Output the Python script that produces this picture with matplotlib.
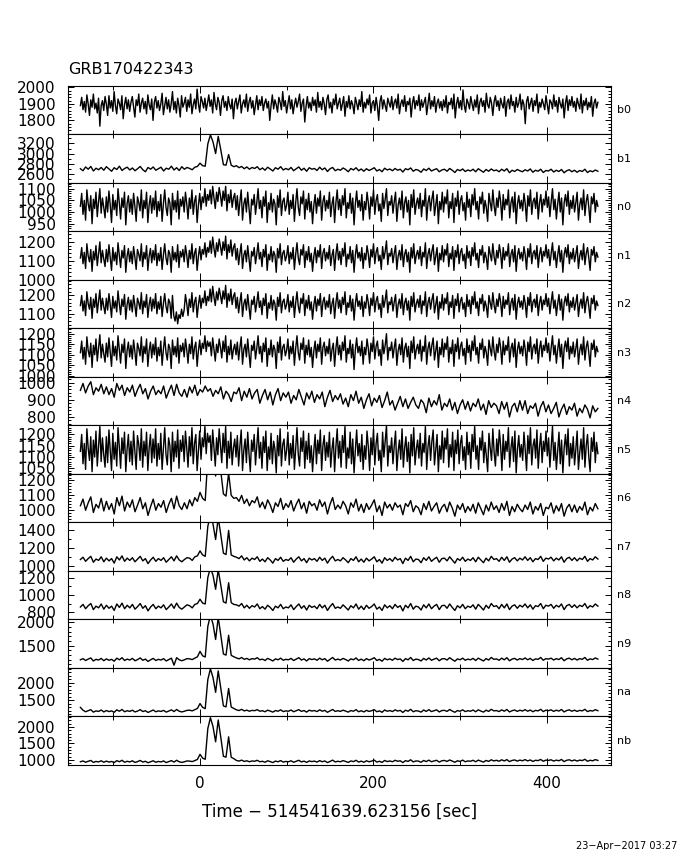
# GBM lightcurves, one panel per detector
import numpy as np
import matplotlib.pyplot as plt
from matplotlib.ticker import MultipleLocator

t_start, t_end = -138.0, 459.0   # first and last bin centre (s)

detectors = ['b0', 'b1', 'n0', 'n1', 'n2', 'n3', 'n4', 'n5',
             'n6', 'n7', 'n8', 'n9', 'na', 'nb']

# count rates (noisy detectors at finer binning)
b0 = [1890, 1940, 1865, 1915, 1850, 1955, 1900, 1830, 1925, 1880, 1960, 1870, 1905, 1845, 1935, 1765, 1890, 1920, 1860, 1945,
      1900, 1830, 1950, 1875, 1920, 1855, 1975, 1890, 1840, 1930, 1905, 1865, 1950, 1810, 1895, 1940, 1870, 1925, 1855, 1910,
      1945, 1880, 1820, 1925, 1890, 1960, 1850, 1905, 1935, 1870, 1915, 1840, 1955, 1895, 1865, 1930, 1800, 1910, 1945, 1875,
      1920, 1860, 1900, 1965, 1835, 1890, 1940, 1870, 1925, 1850, 1900, 1975, 1865, 1915, 1845, 1935, 1890, 1820, 1950, 1880,
      1905, 1940, 1855, 1925, 1880, 1960, 1840, 1895, 1930, 1870, 1990, 1900, 1850, 1945, 1915, 1875, 1935, 1860, 1905, 1955,
      1885, 1925, 1845, 1970, 1900, 1865, 1940, 1910, 1830, 1920, 1950, 1880, 1915, 1860, 1945, 1895, 1870, 1930, 1810, 1905,
      1935, 1870, 1915, 1955, 1845, 1900, 1925, 1880, 1960, 1855, 1910, 1940, 1875, 1920, 1835, 1895, 1950, 1865, 1925, 1890,
      1945, 1860, 1905, 1930, 1875, 1915, 1800, 1890, 1955, 1870, 1925, 1895, 1850, 1940, 1910, 1865, 1975, 1885, 1920, 1845,
      1900, 1950, 1870, 1925, 1840, 1895, 1935, 1880, 1915, 1960, 1855, 1905, 1930, 1790, 1885, 1945, 1875, 1910, 1860, 1940,
      1890, 1925, 1850, 1970, 1880, 1915, 1865, 1940, 1900, 1835, 1925, 1955, 1875, 1910, 1845, 1930, 1895, 1960, 1870, 1905,
      1935, 1860, 1900, 1945, 1825, 1915, 1880, 1950, 1870, 1920, 1895, 1840, 1940, 1905, 1865, 1925, 1885, 1975, 1850, 1910,
      1875, 1930, 1895, 1955, 1845, 1905, 1920, 1860, 1940, 1885, 1800, 1915, 1950, 1870, 1925, 1890, 1855, 1935, 1905, 1880,
      1945, 1865, 1910, 1930, 1875, 1960, 1840, 1900, 1925, 1885, 1950, 1855, 1915, 1895, 1935, 1820, 1905, 1945, 1870, 1920,
      1890, 1955, 1860, 1925, 1880, 1910, 1940, 1835, 1900, 1965, 1870, 1920, 1885, 1945, 1850, 1905, 1930, 1875, 1915, 1860,
      1925, 1880, 1950, 1845, 1910, 1895, 1935, 1870, 1960, 1815, 1900, 1940, 1875, 1920, 1865, 1985, 1890, 1850, 1930, 1905,
      1870, 1945, 1900, 1860, 1925, 1880, 1955, 1840, 1910, 1935, 1885, 1920, 1850, 1965, 1895, 1875, 1940, 1905, 1830, 1915,
      1950, 1885, 1920, 1860, 1935, 1900, 1875, 1945, 1825, 1910, 1930, 1870, 1955, 1890, 1915, 1850, 1940, 1880, 1905, 1960,
      1865, 1925, 1895, 1780, 1915, 1945, 1870, 1905, 1935, 1855, 1920, 1890, 1960, 1845, 1910, 1880, 1930, 1900, 1865, 1950,
      1895, 1840, 1925, 1910, 1870, 1955, 1885, 1920, 1850, 1940, 1900, 1875, 1930, 1815, 1905, 1950, 1860, 1925, 1890, 1945,
      1880, 1915, 1855, 1935, 1900, 1870, 1960, 1845, 1920, 1890, 1935, 1865, 1910, 1880, 1945, 1825, 1905, 1930, 1875, 1910]

b1 = [2700, 2660, 2735, 2690, 2745, 2655, 2710, 2680, 2725, 2670,
      2740, 2695, 2650, 2720, 2685, 2750, 2665, 2705, 2730, 2675,
      2715, 2660, 2700, 2745, 2680, 2640, 2725, 2690, 2735, 2670,
      2700, 2730, 2655, 2710, 2690, 2750, 2675, 2720, 2665, 2740,
      2690, 2725, 2705, 2680, 2730, 2745, 2810, 2760, 2750, 3190,
      3370, 3230, 3000, 3340, 3070, 2780, 2770, 2980, 2770, 2740,
      2760, 2720, 2745, 2700, 2735, 2690, 2725, 2705, 2740, 2680,
      2715, 2670, 2730, 2695, 2655, 2720, 2690, 2740, 2675, 2705,
      2680, 2725, 2660, 2700, 2735, 2670, 2710, 2650, 2720, 2690,
      2705, 2665, 2730, 2680, 2715, 2645, 2700, 2725, 2660, 2690,
      2670, 2715, 2685, 2640, 2705, 2675, 2720, 2660, 2695, 2650,
      2700, 2665, 2690, 2720, 2655, 2685, 2640, 2710, 2675, 2695,
      2660, 2705, 2670, 2690, 2635, 2700, 2680, 2715, 2650, 2685,
      2670, 2630, 2695, 2665, 2710, 2655, 2680, 2700, 2640, 2675,
      2690, 2650, 2705, 2670, 2625, 2685, 2660, 2695, 2645, 2675,
      2655, 2690, 2640, 2700, 2665, 2630, 2685, 2650, 2695, 2660,
      2675, 2640, 2690, 2655, 2700, 2620, 2670, 2645, 2685, 2660,
      2640, 2680, 2655, 2695, 2630, 2670, 2650, 2690, 2625, 2665,
      2655, 2690, 2635, 2670, 2645, 2685, 2620, 2660, 2680, 2640,
      2670, 2630, 2665, 2645, 2690, 2625, 2660, 2640, 2675, 2650]

n0 = [1025, 1080, 990, 1050, 965, 1095, 1035, 1005, 1070, 950, 1055, 1015, 1085, 980, 1045, 1100, 995, 1060, 1020, 975,
      1065, 1000, 1090, 1030, 955, 1075, 1010, 1050, 985, 1100, 1040, 970, 1060, 1020, 1085, 945, 1035, 1070, 1000, 1055,
      990, 1080, 1025, 960, 1065, 1040, 1005, 1095, 975, 1050, 1015, 1085, 955, 1030, 1070, 995, 1060, 1010, 1090, 980,
      1045, 1005, 1075, 960, 1035, 1095, 1020, 985, 1060, 1040, 945, 1080, 1010, 1050, 1000, 1090, 970, 1055, 1025, 1065,
      1000, 1085, 1035, 970, 1060, 1015, 1095, 990, 1045, 1070, 955, 1030, 1080, 1010, 1065, 1040, 1100, 1025, 1075, 1050,
      1095, 1035, 1110, 1060, 1015, 1085, 1045, 1105, 1070, 1025, 1090, 1050, 1110, 1005, 1075, 1040, 1095, 1020, 1060, 1080,
      1010, 1070, 985, 1045, 1095, 965, 1035, 1060, 1000, 1085, 1020, 950, 1055, 1030, 1075, 990, 1040, 1100, 1015, 1050,
      975, 1065, 1025, 1090, 955, 1040, 1010, 1080, 1000, 1055, 1035, 945, 1070, 1020, 1095, 985, 1045, 1060, 1005, 1030,
      1085, 990, 1050, 1015, 1075, 960, 1040, 1100, 1020, 985, 1065, 1035, 1090, 970, 1055, 1010, 1080, 1000, 1045, 950,
      1030, 1075, 995, 1060, 1025, 1090, 965, 1045, 1070, 1005, 1050, 1015, 1085, 980, 1035, 1065, 955, 1040, 1095, 1010,
      1055, 985, 1070, 1030, 1100, 975, 1040, 1015, 1080, 995, 1060, 945, 1035, 1090, 1020, 1050, 1005, 1075, 965, 1045,
      1010, 1085, 1040, 970, 1065, 1025, 1095, 990, 1050, 1075, 1005, 1035, 960, 1080, 1015, 1055, 1100, 985, 1045, 1030,
      1070, 995, 1045, 1085, 960, 1030, 1060, 1010, 1090, 975, 1040, 1065, 1000, 1050, 945, 1075, 1020, 1095, 990, 1035,
      1060, 1015, 1080, 980, 1050, 1025, 1100, 965, 1040, 1070, 1005, 1055, 1090, 985, 1030, 1075, 950, 1045, 1010, 1085,
      1000, 1065, 1035, 1095, 975, 1045, 1015, 1080, 955, 1060, 1025, 1090, 990, 1050, 1070, 1005, 1040, 965, 1085, 1020,
      1055, 980, 1075, 1030, 1100, 1010, 1045, 970, 1065, 1035, 1085, 995, 1050, 1020, 960, 1080, 1040, 1005, 1095, 1025,
      985, 1060, 1020, 1090, 1045, 965, 1075, 1010, 1055, 1030, 1095, 975, 1040, 1065, 1000, 1085, 950, 1035, 1070, 1015,
      1050, 1005, 1080, 1035, 960, 1070, 1025, 1095, 990, 1045, 1060, 1015, 1085, 970, 1040, 1075, 1000, 1055, 1030, 1090,
      1020, 1065, 980, 1045, 1100, 1010, 1055, 970, 1035, 1085, 1000, 1060, 945, 1040, 1075, 1025, 1090, 990, 1050, 1015,
      1070, 1000, 1040, 1085, 965, 1030, 1060, 1010, 1095, 985, 1045, 1075, 1020, 955, 1065, 1035, 1080, 1000, 1050, 1025]

n1 = [1115, 1170, 1085, 1145, 1060, 1190, 1125, 1095, 1160, 1045, 1150, 1105, 1180, 1075, 1135, 1200, 1090, 1155, 1110, 1070,
      1160, 1095, 1185, 1120, 1050, 1170, 1100, 1145, 1080, 1195, 1130, 1065, 1155, 1115, 1180, 1040, 1125, 1165, 1095, 1150,
      1085, 1175, 1120, 1055, 1160, 1135, 1100, 1190, 1070, 1145, 1110, 1180, 1050, 1125, 1165, 1090, 1155, 1105, 1185, 1075,
      1140, 1100, 1170, 1055, 1130, 1190, 1115, 1080, 1155, 1135, 1040, 1175, 1105, 1145, 1095, 1185, 1065, 1150, 1120, 1160,
      1095, 1180, 1130, 1065, 1155, 1110, 1190, 1085, 1140, 1165, 1050, 1125, 1175, 1105, 1160, 1135, 1195, 1120, 1170, 1145,
      1205, 1140, 1225, 1165, 1120, 1195, 1150, 1215, 1175, 1130, 1200, 1155, 1230, 1110, 1185, 1145, 1210, 1125, 1170, 1190,
      1105, 1165, 1080, 1140, 1190, 1060, 1130, 1155, 1095, 1180, 1115, 1045, 1150, 1125, 1170, 1085, 1135, 1195, 1110, 1145,
      1070, 1160, 1120, 1185, 1050, 1135, 1105, 1175, 1095, 1150, 1130, 1040, 1165, 1115, 1190, 1080, 1140, 1155, 1100, 1125,
      1180, 1085, 1145, 1110, 1170, 1055, 1135, 1195, 1115, 1080, 1160, 1130, 1185, 1065, 1150, 1105, 1175, 1095, 1140, 1045,
      1125, 1170, 1090, 1155, 1120, 1185, 1060, 1140, 1165, 1100, 1145, 1110, 1180, 1075, 1130, 1160, 1050, 1135, 1190, 1105,
      1150, 1080, 1165, 1125, 1195, 1070, 1135, 1110, 1175, 1090, 1155, 1040, 1130, 1185, 1115, 1145, 1100, 1170, 1060, 1140,
      1105, 1180, 1135, 1065, 1160, 1120, 1190, 1085, 1145, 1170, 1100, 1130, 1055, 1175, 1110, 1150, 1205, 1080, 1140, 1125,
      1165, 1090, 1140, 1180, 1055, 1125, 1155, 1105, 1185, 1070, 1135, 1160, 1095, 1145, 1040, 1170, 1115, 1190, 1085, 1130,
      1155, 1110, 1175, 1075, 1145, 1120, 1195, 1060, 1135, 1165, 1100, 1150, 1185, 1080, 1125, 1170, 1045, 1140, 1105, 1180,
      1095, 1160, 1130, 1190, 1070, 1140, 1110, 1175, 1050, 1155, 1120, 1185, 1085, 1145, 1165, 1100, 1135, 1060, 1180, 1115,
      1150, 1075, 1170, 1125, 1195, 1105, 1140, 1065, 1160, 1130, 1180, 1090, 1145, 1115, 1055, 1175, 1135, 1100, 1190, 1120,
      1080, 1155, 1115, 1185, 1140, 1060, 1170, 1105, 1150, 1125, 1190, 1070, 1135, 1160, 1095, 1180, 1045, 1130, 1165, 1110,
      1145, 1100, 1175, 1130, 1055, 1165, 1120, 1190, 1085, 1140, 1155, 1110, 1180, 1065, 1135, 1170, 1095, 1150, 1125, 1185,
      1115, 1160, 1075, 1140, 1195, 1105, 1150, 1065, 1130, 1180, 1095, 1155, 1040, 1135, 1170, 1120, 1185, 1085, 1145, 1110,
      1165, 1095, 1135, 1180, 1060, 1125, 1155, 1105, 1190, 1080, 1140, 1170, 1115, 1050, 1160, 1130, 1175, 1095, 1145, 1120]

n2 = [1145, 1200, 1115, 1170, 1090, 1220, 1155, 1125, 1190, 1075, 1180, 1135, 1210, 1105, 1165, 1230, 1120, 1185, 1140, 1100,
      1185, 1120, 1210, 1150, 1080, 1195, 1130, 1170, 1110, 1225, 1155, 1095, 1180, 1140, 1205, 1070, 1150, 1190, 1120, 1175,
      1110, 1200, 1145, 1085, 1185, 1160, 1125, 1215, 1100, 1170, 1135, 1205, 1080, 1150, 1190, 1115, 1180, 1130, 1210, 1100,
      1165, 1125, 1195, 1085, 1155, 1210, 1140, 1105, 1180, 1160, 1075, 1200, 1090, 1060, 1110, 1045, 1095, 1075, 1125, 1085,
      1120, 1205, 1155, 1090, 1180, 1135, 1215, 1110, 1165, 1190, 1080, 1150, 1200, 1130, 1185, 1160, 1225, 1145, 1195, 1170,
      1235, 1165, 1250, 1190, 1145, 1220, 1175, 1240, 1200, 1155, 1225, 1180, 1255, 1135, 1210, 1170, 1235, 1150, 1195, 1215,
      1130, 1190, 1105, 1165, 1215, 1085, 1155, 1180, 1120, 1205, 1140, 1070, 1175, 1150, 1195, 1110, 1160, 1220, 1135, 1170,
      1095, 1185, 1145, 1210, 1075, 1160, 1130, 1200, 1120, 1175, 1155, 1065, 1190, 1140, 1215, 1105, 1165, 1180, 1125, 1150,
      1205, 1110, 1170, 1135, 1195, 1080, 1160, 1220, 1140, 1105, 1185, 1155, 1210, 1090, 1175, 1130, 1200, 1120, 1165, 1070,
      1150, 1195, 1115, 1180, 1145, 1210, 1085, 1165, 1190, 1125, 1170, 1135, 1205, 1100, 1155, 1185, 1075, 1160, 1215, 1130,
      1175, 1105, 1190, 1150, 1220, 1095, 1160, 1135, 1200, 1115, 1180, 1065, 1155, 1210, 1140, 1170, 1125, 1195, 1085, 1165,
      1130, 1205, 1160, 1090, 1185, 1145, 1215, 1110, 1170, 1195, 1125, 1155, 1080, 1200, 1135, 1175, 1230, 1105, 1165, 1150,
      1190, 1115, 1165, 1205, 1080, 1150, 1180, 1130, 1210, 1095, 1160, 1185, 1120, 1170, 1065, 1195, 1140, 1215, 1110, 1155,
      1180, 1135, 1200, 1100, 1170, 1145, 1220, 1085, 1160, 1190, 1125, 1175, 1210, 1105, 1150, 1195, 1070, 1165, 1130, 1205,
      1120, 1185, 1155, 1215, 1095, 1165, 1135, 1200, 1075, 1180, 1145, 1210, 1110, 1170, 1190, 1125, 1160, 1085, 1205, 1140,
      1175, 1100, 1195, 1150, 1220, 1130, 1165, 1090, 1185, 1155, 1205, 1115, 1170, 1140, 1080, 1200, 1160, 1125, 1215, 1145,
      1105, 1180, 1140, 1210, 1165, 1085, 1195, 1130, 1175, 1150, 1215, 1095, 1160, 1185, 1120, 1205, 1070, 1155, 1190, 1135,
      1170, 1125, 1200, 1155, 1080, 1190, 1145, 1215, 1110, 1165, 1180, 1135, 1205, 1090, 1160, 1195, 1120, 1175, 1150, 1210,
      1140, 1185, 1100, 1165, 1220, 1130, 1175, 1090, 1155, 1205, 1120, 1180, 1065, 1160, 1195, 1145, 1210, 1110, 1170, 1135,
      1190, 1120, 1160, 1205, 1085, 1150, 1180, 1130, 1215, 1105, 1165, 1195, 1140, 1075, 1185, 1155, 1200, 1120, 1170, 1145]

n3 = [1110, 1165, 1080, 1135, 1055, 1185, 1120, 1090, 1155, 1040, 1145, 1100, 1175, 1070, 1130, 1195, 1085, 1150, 1105, 1065,
      1155, 1090, 1180, 1115, 1045, 1165, 1095, 1140, 1075, 1190, 1125, 1060, 1150, 1110, 1175, 1035, 1120, 1160, 1090, 1145,
      1080, 1170, 1115, 1050, 1155, 1130, 1095, 1185, 1065, 1140, 1105, 1175, 1045, 1120, 1160, 1085, 1150, 1100, 1180, 1070,
      1135, 1095, 1165, 1050, 1125, 1185, 1110, 1075, 1150, 1130, 1035, 1170, 1100, 1140, 1090, 1180, 1060, 1145, 1115, 1155,
      1090, 1175, 1125, 1060, 1150, 1105, 1185, 1080, 1135, 1160, 1045, 1120, 1170, 1100, 1155, 1130, 1190, 1115, 1165, 1140,
      1160, 1095, 1180, 1125, 1070, 1150, 1110, 1175, 1135, 1085, 1165, 1115, 1190, 1065, 1140, 1100, 1170, 1080, 1125, 1150,
      1100, 1160, 1075, 1135, 1185, 1055, 1125, 1150, 1090, 1175, 1110, 1040, 1145, 1120, 1165, 1080, 1130, 1190, 1105, 1140,
      1065, 1155, 1115, 1180, 1045, 1130, 1100, 1170, 1090, 1145, 1125, 1035, 1160, 1110, 1185, 1075, 1135, 1150, 1095, 1120,
      1175, 1080, 1140, 1105, 1165, 1050, 1130, 1190, 1110, 1075, 1155, 1125, 1180, 1060, 1145, 1100, 1170, 1090, 1135, 1040,
      1120, 1165, 1085, 1150, 1115, 1180, 1055, 1135, 1160, 1095, 1140, 1105, 1175, 1070, 1125, 1155, 1045, 1130, 1185, 1100,
      1145, 1075, 1160, 1120, 1190, 1065, 1130, 1105, 1170, 1085, 1150, 1030, 1125, 1180, 1110, 1140, 1095, 1165, 1055, 1135,
      1100, 1175, 1130, 1060, 1155, 1115, 1185, 1080, 1140, 1165, 1095, 1125, 1050, 1170, 1105, 1145, 1200, 1075, 1135, 1120,
      1160, 1085, 1135, 1175, 1050, 1120, 1150, 1100, 1180, 1065, 1130, 1155, 1090, 1140, 1035, 1165, 1110, 1185, 1080, 1125,
      1150, 1105, 1170, 1070, 1140, 1115, 1190, 1055, 1130, 1160, 1095, 1145, 1180, 1075, 1120, 1165, 1040, 1135, 1100, 1175,
      1090, 1155, 1125, 1185, 1065, 1135, 1105, 1170, 1045, 1150, 1115, 1180, 1080, 1140, 1160, 1095, 1130, 1055, 1175, 1110,
      1145, 1070, 1165, 1120, 1190, 1100, 1135, 1060, 1155, 1125, 1175, 1085, 1140, 1110, 1050, 1170, 1130, 1095, 1185, 1115,
      1075, 1150, 1110, 1180, 1135, 1055, 1165, 1100, 1145, 1120, 1185, 1065, 1130, 1155, 1090, 1175, 1040, 1125, 1160, 1105,
      1140, 1095, 1170, 1125, 1050, 1160, 1115, 1185, 1080, 1135, 1150, 1105, 1175, 1060, 1130, 1165, 1090, 1145, 1120, 1180,
      1110, 1155, 1070, 1135, 1190, 1100, 1145, 1060, 1125, 1175, 1090, 1150, 1035, 1130, 1165, 1115, 1180, 1080, 1140, 1105,
      1160, 1090, 1130, 1175, 1055, 1120, 1150, 1100, 1185, 1075, 1135, 1165, 1110, 1045, 1155, 1125, 1170, 1090, 1140, 1115]

n4 = [955, 995, 940, 980, 1005, 930, 970, 950, 990, 935,
      975, 930, 965, 915, 995, 955, 985, 925, 970, 945,
      985, 920, 960, 990, 935, 965, 905, 950, 980, 930,
      955, 935, 980, 910, 950, 985, 925, 990, 940, 920,
      960, 915, 975, 940, 985, 925, 960, 945, 980, 950,
      965, 920, 955, 935, 975, 905, 950, 930, 890, 945,
      935, 970, 895, 950, 915, 965, 905, 940, 960, 880,
      925, 960, 900, 945, 870, 930, 965, 895, 940, 915,
      945, 880, 925, 900, 960, 915, 870, 940, 905, 950,
      885, 930, 905, 945, 860, 915, 955, 890, 925, 900,
      935, 875, 910, 860, 930, 895, 950, 880, 915, 850,
      900, 935, 865, 910, 885, 925, 855, 895, 945, 870,
      895, 840, 880, 920, 860, 905, 850, 885, 915, 870,
      850, 900, 880, 825, 910, 860, 895, 870, 930, 840,
      880, 860, 905, 840, 885, 820, 870, 900, 845, 890,
      835, 880, 860, 905, 840, 875, 815, 895, 855, 880,
      865, 820, 890, 845, 885, 800, 860, 880, 830, 895,
      840, 895, 820, 865, 850, 880, 805, 860, 890, 830,
      870, 820, 850, 885, 800, 845, 875, 815, 860, 840,
      880, 805, 850, 825, 870, 845, 795, 865, 830, 850]

n5 = [1125, 1200, 1070, 1160, 1045, 1225, 1140, 1085, 1190, 1035, 1175, 1100, 1215, 1060, 1150, 1235, 1080, 1185, 1110, 1055,
      1190, 1075, 1220, 1130, 1040, 1205, 1090, 1165, 1060, 1230, 1145, 1050, 1185, 1115, 1210, 1035, 1135, 1200, 1080, 1170,
      1065, 1215, 1125, 1045, 1195, 1155, 1085, 1225, 1055, 1170, 1105, 1210, 1040, 1140, 1200, 1075, 1180, 1095, 1225, 1060,
      1160, 1090, 1205, 1045, 1135, 1230, 1110, 1065, 1185, 1150, 1035, 1210, 1080, 1170, 1100, 1220, 1050, 1175, 1125, 1195,
      1080, 1215, 1140, 1055, 1190, 1105, 1230, 1070, 1160, 1200, 1040, 1130, 1215, 1090, 1185, 1145, 1235, 1115, 1205, 1165,
      1195, 1085, 1220, 1140, 1060, 1185, 1110, 1225, 1150, 1075, 1205, 1120, 1235, 1050, 1170, 1095, 1210, 1065, 1140, 1180,
      1100, 1195, 1060, 1150, 1220, 1040, 1130, 1180, 1075, 1210, 1115, 1035, 1175, 1125, 1200, 1065, 1145, 1230, 1095, 1165,
      1050, 1190, 1120, 1215, 1040, 1145, 1090, 1205, 1070, 1170, 1135, 1030, 1195, 1105, 1225, 1060, 1155, 1180, 1085, 1130,
      1210, 1065, 1160, 1095, 1195, 1045, 1140, 1230, 1110, 1060, 1185, 1125, 1215, 1050, 1170, 1090, 1205, 1075, 1150, 1035,
      1130, 1200, 1070, 1175, 1115, 1220, 1040, 1150, 1195, 1085, 1165, 1100, 1210, 1055, 1135, 1185, 1035, 1145, 1225, 1095,
      1170, 1055, 1195, 1120, 1235, 1050, 1140, 1095, 1210, 1070, 1180, 1030, 1130, 1220, 1105, 1160, 1080, 1200, 1045, 1150,
      1090, 1215, 1145, 1040, 1185, 1110, 1225, 1065, 1160, 1205, 1085, 1130, 1035, 1210, 1100, 1170, 1240, 1060, 1150, 1120,
      1185, 1070, 1150, 1215, 1040, 1125, 1175, 1090, 1225, 1055, 1140, 1190, 1080, 1165, 1030, 1200, 1105, 1230, 1065, 1135,
      1175, 1095, 1205, 1060, 1160, 1120, 1235, 1045, 1145, 1195, 1085, 1170, 1220, 1065, 1130, 1200, 1035, 1150, 1090, 1215,
      1075, 1185, 1135, 1225, 1055, 1155, 1100, 1210, 1040, 1175, 1115, 1220, 1070, 1160, 1195, 1085, 1145, 1045, 1210, 1110,
      1165, 1050, 1200, 1125, 1235, 1090, 1150, 1045, 1185, 1130, 1215, 1075, 1165, 1105, 1035, 1205, 1140, 1085, 1225, 1120,
      1060, 1180, 1105, 1220, 1150, 1040, 1200, 1090, 1170, 1125, 1230, 1055, 1140, 1190, 1080, 1215, 1030, 1135, 1195, 1100,
      1155, 1085, 1210, 1130, 1040, 1195, 1115, 1230, 1065, 1150, 1180, 1095, 1220, 1050, 1145, 1205, 1075, 1170, 1125, 1215,
      1105, 1185, 1055, 1145, 1235, 1085, 1165, 1045, 1130, 1210, 1070, 1175, 1030, 1140, 1200, 1110, 1225, 1060, 1160, 1095,
      1190, 1065, 1135, 1215, 1045, 1120, 1180, 1090, 1230, 1055, 1150, 1200, 1100, 1035, 1185, 1125, 1210, 1075, 1165, 1115]

n6 = [1030, 1075, 1000, 1050, 1090, 985, 1040, 1015, 1080, 995,
      1060, 1005, 1045, 975, 1085, 1030, 1095, 995, 1055, 1020,
      1070, 990, 1035, 1085, 1010, 1050, 965, 1025, 1075, 1000,
      1045, 1020, 1065, 985, 1040, 1080, 1010, 1095, 1030, 1005,
      1050, 1010, 1070, 1030, 1085, 1060, 1120, 1080, 1065, 1350,
      1470, 1380, 1230, 1440, 1260, 1110, 1095, 1250, 1100, 1080,
      1085, 1060, 1100, 1045, 1075, 1030, 1065, 1050, 1090, 1020,
      1055, 1010, 1070, 1035, 985, 1050, 1025, 1080, 1005, 1045,
      1020, 1065, 995, 1040, 1075, 1010, 1050, 980, 1060, 1030,
      1045, 1000, 1070, 1025, 1055, 975, 1040, 1085, 1005, 1035,
      1010, 1060, 1030, 975, 1050, 1020, 1075, 995, 1040, 985,
      1045, 1005, 1035, 1070, 990, 1030, 965, 1055, 1015, 1040,
      1000, 1050, 1020, 1035, 970, 1045, 1025, 1065, 990, 1030,
      1015, 970, 1045, 1005, 1060, 995, 1025, 1050, 980, 1020,
      1040, 990, 1055, 1015, 960, 1035, 1005, 1045, 985, 1025,
      995, 1040, 980, 1050, 1010, 970, 1035, 995, 1055, 1005,
      1030, 985, 1045, 1000, 1060, 965, 1025, 990, 1040, 1010,
      990, 1035, 1005, 1055, 975, 1025, 1000, 1045, 965, 1020,
      1010, 1050, 980, 1030, 995, 1045, 960, 1015, 1040, 990,
      1035, 985, 1025, 1000, 1055, 970, 1020, 995, 1045, 1010]

n7 = [1070, 1095, 1050, 1080, 1105, 1040, 1075, 1060, 1100, 1045,
      1085, 1055, 1080, 1030, 1100, 1065, 1110, 1050, 1085, 1060,
      1090, 1045, 1075, 1105, 1055, 1080, 1025, 1065, 1095, 1050,
      1080, 1060, 1090, 1040, 1070, 1100, 1055, 1110, 1065, 1045,
      1070, 1090, 1085, 1060, 1100, 1110, 1165, 1120, 1105, 1435,
      1560, 1460, 1290, 1530, 1340, 1140, 1125, 1390, 1120, 1105,
      1095, 1080, 1110, 1065, 1090, 1055, 1085, 1070, 1100, 1050,
      1075, 1045, 1090, 1065, 1030, 1080, 1060, 1095, 1050, 1070,
      1060, 1090, 1040, 1075, 1100, 1055, 1080, 1035, 1085, 1065,
      1080, 1050, 1095, 1060, 1085, 1030, 1075, 1105, 1055, 1070,
      1055, 1090, 1065, 1035, 1080, 1060, 1100, 1045, 1075, 1040,
      1085, 1055, 1075, 1100, 1045, 1070, 1030, 1090, 1060, 1080,
      1050, 1095, 1065, 1080, 1025, 1085, 1060, 1105, 1045, 1075,
      1070, 1035, 1090, 1060, 1100, 1050, 1075, 1095, 1040, 1080,
      1085, 1055, 1100, 1065, 1030, 1080, 1060, 1095, 1050, 1075,
      1060, 1090, 1045, 1095, 1065, 1035, 1085, 1055, 1105, 1070,
      1080, 1050, 1095, 1060, 1100, 1040, 1075, 1090, 1055, 1085,
      1065, 1100, 1060, 1090, 1045, 1080, 1070, 1105, 1050, 1085,
      1075, 1095, 1055, 1085, 1065, 1100, 1040, 1080, 1095, 1060,
      1090, 1055, 1085, 1070, 1105, 1050, 1080, 1065, 1100, 1075]

n8 = [860, 890, 840, 875, 900, 830, 870, 850, 895, 835,
      880, 845, 870, 820, 895, 855, 905, 840, 880, 850,
      890, 835, 865, 900, 845, 875, 815, 860, 890, 840,
      870, 850, 885, 830, 860, 895, 845, 905, 855, 835,
      860, 885, 875, 850, 890, 900, 950, 905, 895, 1200,
      1315, 1225, 1065, 1290, 1110, 920, 905, 1140, 910, 890,
      885, 870, 900, 850, 880, 845, 875, 860, 895, 840,
      865, 835, 880, 855, 820, 870, 850, 890, 840, 860,
      850, 885, 830, 865, 895, 845, 875, 825, 880, 855,
      870, 840, 890, 850, 880, 820, 865, 900, 845, 860,
      845, 885, 855, 825, 875, 850, 895, 835, 870, 830,
      880, 845, 865, 895, 835, 860, 820, 885, 850, 875,
      840, 890, 855, 875, 815, 880, 850, 900, 835, 870,
      860, 825, 885, 850, 895, 840, 870, 890, 830, 875,
      880, 845, 895, 855, 820, 875, 850, 890, 840, 870,
      855, 885, 835, 890, 860, 825, 880, 845, 900, 865,
      875, 840, 890, 850, 895, 830, 870, 885, 845, 880,
      860, 895, 850, 885, 835, 875, 865, 900, 840, 880,
      870, 890, 845, 880, 860, 895, 830, 875, 890, 855,
      885, 850, 880, 865, 900, 845, 875, 860, 895, 870]

n9 = [1195, 1220, 1180, 1210, 1235, 1170, 1205, 1190, 1225, 1175,
      1215, 1185, 1205, 1165, 1230, 1195, 1240, 1180, 1210, 1190,
      1225, 1175, 1200, 1235, 1185, 1210, 1160, 1195, 1225, 1180,
      1205, 1190, 1220, 1170, 1200, 1230, 1080, 1240, 1195, 1175,
      1195, 1220, 1215, 1200, 1230, 1260, 1375, 1280, 1255, 1910,
      2150, 1960, 1630, 2100, 1720, 1320, 1295, 1720, 1290, 1260,
      1235, 1215, 1245, 1205, 1225, 1195, 1220, 1210, 1240, 1195,
      1210, 1180, 1225, 1200, 1170, 1215, 1195, 1230, 1185, 1205,
      1195, 1225, 1180, 1210, 1240, 1190, 1215, 1170, 1220, 1200,
      1215, 1185, 1230, 1195, 1220, 1165, 1205, 1245, 1190, 1210,
      1190, 1225, 1200, 1170, 1215, 1195, 1235, 1180, 1210, 1175,
      1220, 1190, 1210, 1240, 1180, 1205, 1165, 1225, 1195, 1215,
      1185, 1230, 1200, 1215, 1160, 1220, 1195, 1245, 1180, 1210,
      1200, 1170, 1225, 1190, 1235, 1185, 1210, 1230, 1175, 1215,
      1220, 1190, 1240, 1200, 1165, 1215, 1195, 1230, 1185, 1210,
      1195, 1225, 1180, 1230, 1200, 1170, 1220, 1190, 1245, 1205,
      1215, 1185, 1230, 1195, 1240, 1175, 1210, 1225, 1190, 1220,
      1200, 1235, 1195, 1225, 1180, 1215, 1205, 1245, 1185, 1220,
      1210, 1230, 1190, 1220, 1200, 1240, 1175, 1215, 1230, 1195,
      1225, 1190, 1220, 1205, 1245, 1185, 1215, 1200, 1235, 1210]

na = [1300, 1220, 1175, 1205, 1235, 1165, 1200, 1185, 1225, 1170,
      1210, 1180, 1200, 1160, 1230, 1190, 1240, 1175, 1205, 1185,
      1220, 1170, 1195, 1235, 1180, 1205, 1155, 1190, 1225, 1175,
      1200, 1185, 1215, 1165, 1195, 1230, 1180, 1240, 1190, 1170,
      1190, 1215, 1220, 1200, 1235, 1270, 1410, 1300, 1265, 2095,
      2400, 2150, 1730, 2340, 1850, 1340, 1315, 1840, 1310, 1270,
      1230, 1210, 1245, 1200, 1220, 1190, 1215, 1205, 1235, 1190,
      1205, 1175, 1220, 1195, 1165, 1210, 1190, 1230, 1180, 1200,
      1190, 1225, 1175, 1205, 1235, 1185, 1210, 1165, 1220, 1195,
      1210, 1180, 1230, 1190, 1215, 1160, 1200, 1240, 1185, 1205,
      1185, 1220, 1195, 1165, 1210, 1190, 1235, 1175, 1205, 1170,
      1215, 1185, 1205, 1235, 1175, 1200, 1160, 1225, 1190, 1210,
      1180, 1230, 1195, 1215, 1155, 1220, 1190, 1245, 1175, 1205,
      1195, 1165, 1225, 1185, 1235, 1180, 1205, 1230, 1170, 1210,
      1215, 1185, 1240, 1195, 1160, 1210, 1190, 1230, 1180, 1205,
      1190, 1225, 1175, 1230, 1195, 1165, 1220, 1185, 1245, 1200,
      1210, 1180, 1230, 1190, 1240, 1170, 1205, 1225, 1185, 1220,
      1195, 1235, 1190, 1225, 1175, 1215, 1200, 1245, 1180, 1220,
      1205, 1230, 1185, 1220, 1195, 1240, 1170, 1210, 1230, 1190,
      1220, 1185, 1215, 1200, 1245, 1180, 1210, 1195, 1235, 1205]

nb = [945, 970, 930, 960, 985, 925, 955, 940, 975, 930,
      965, 935, 955, 920, 980, 945, 990, 930, 960, 940,
      975, 925, 950, 985, 935, 960, 915, 945, 975, 930,
      955, 940, 970, 920, 950, 980, 935, 990, 945, 925,
      945, 970, 965, 950, 980, 1015, 1170, 1055, 1020, 1950,
      2280, 2010, 1550, 2210, 1680, 1110, 1085, 1700, 1080, 1040,
      985, 965, 995, 955, 975, 945, 970, 960, 990, 945,
      960, 930, 975, 950, 920, 965, 945, 980, 935, 955,
      945, 975, 930, 960, 990, 940, 965, 925, 970, 950,
      965, 935, 980, 945, 970, 920, 955, 995, 940, 960,
      945, 980, 955, 925, 970, 950, 990, 935, 965, 930,
      975, 945, 965, 995, 935, 960, 925, 985, 950, 970,
      945, 990, 960, 975, 920, 980, 955, 1005, 940, 970,
      965, 930, 985, 950, 995, 945, 970, 990, 935, 975,
      985, 955, 1000, 965, 930, 975, 955, 995, 945, 970,
      960, 990, 945, 995, 965, 935, 985, 955, 1005, 970,
      990, 960, 1005, 970, 1010, 950, 985, 1000, 965, 995,
      975, 1010, 970, 1000, 955, 990, 980, 1015, 960, 995,
      985, 1005, 965, 995, 975, 1015, 950, 990, 1005, 970,
      1000, 965, 995, 980, 1020, 960, 990, 975, 1010, 985]

rates = [b0, b1, n0, n1, n2, n3, n4, n5, n6, n7, n8, n9, na, nb]

# y ranges and tick spacing per panel
ylims = [(1715, 2010), (2420, 3380), (917, 1125), (1000, 1255),
         (1020, 1285), (995, 1225), (751, 1033), (1025, 1240),
         (918, 1244), (944, 1478), (716, 1276), (1020, 2058),
         (1040, 2425), (847, 2316)]
ymajor = [100, 200, 50, 100, 100, 50, 100, 50, 100, 200, 200, 500, 500, 500]
yminor = [20, 100, 10, 20, 20, 10, 20, 10, 20, 100, 100, 100, 100, 100]

fig, axes = plt.subplots(len(detectors), 1, figsize=(6.8, 8.5), dpi=100,
                         sharex=True)
fig.subplots_adjust(left=0.1, right=0.899, top=0.899, bottom=0.1, hspace=0)

for k, ax in enumerate(axes):
    y = np.array(rates[k])
    t = np.linspace(t_start, t_end, len(y))
    ax.plot(t, y, color='black', lw=1.0)
    ax.set_xlim(-152.3, 474.5)
    ax.set_ylim(*ylims[k])
    ax.xaxis.set_major_locator(MultipleLocator(200))
    ax.xaxis.set_minor_locator(MultipleLocator(100))
    ax.yaxis.set_major_locator(MultipleLocator(ymajor[k]))
    ax.yaxis.set_minor_locator(MultipleLocator(yminor[k]))
    ax.tick_params(axis='both', which='both', direction='in',
                   top=True, bottom=True, left=True, right=True,
                   width=0.7, colors='black')
    ax.tick_params(axis='x', which='major', length=5)
    ax.tick_params(axis='x', which='minor', length=3)
    ax.tick_params(axis='y', which='major', length=4.5, labelsize=11, pad=9)
    ax.tick_params(axis='y', which='minor', length=2.2)
    ax.tick_params(axis='x', labelsize=11, pad=8,
                   labelbottom=(k == len(detectors) - 1))
    for s in ax.spines.values():
        s.set_linewidth(0.8)
    ax.text(1.011, 0.5, detectors[k], transform=ax.transAxes,
            ha='left', va='center', fontsize=8)

fig.text(0.1, 1 - 69 / 850, 'GRB170422343', ha='left', va='center',
         fontsize=11.5)
fig.text(0.4993, 1 - 812 / 850, 'Time \u2212 514541639.623156 [sec]',
         ha='center', va='center', fontsize=12)
fig.text(677 / 680, 1 - 846 / 850, '23\u2212Apr\u22122017 03:27',
         ha='right', va='center', fontsize=7)

plt.savefig('out.png', dpi=100)
